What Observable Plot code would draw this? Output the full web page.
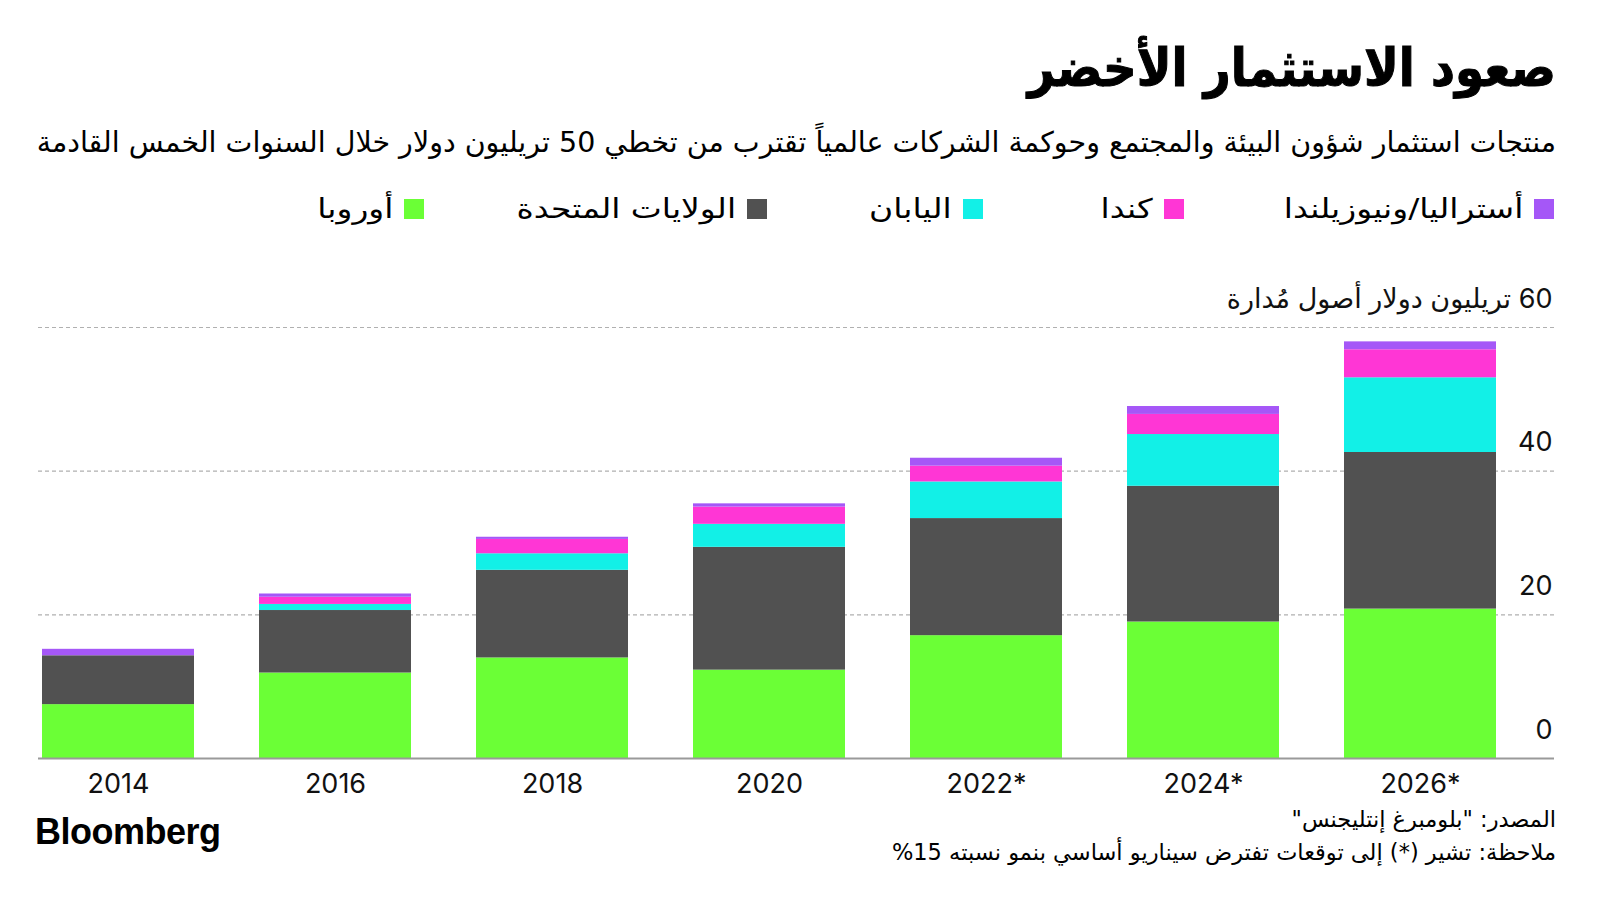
<!DOCTYPE html>
<html>
<head>
<meta charset="utf-8">
<script src="https://cdn.jsdelivr.net/npm/d3@7"></script>
<script src="https://cdn.jsdelivr.net/npm/@observablehq/plot@0.6"></script>
<style>
  html, body { margin: 0; padding: 0; background: #fff; }
  body { width: 1600px; height: 901px; position: relative; overflow: hidden;
         font-family: "DejaVu Sans", sans-serif; color: #000; }
  .rtl { direction: rtl; position: absolute; white-space: nowrap; }
  #title { right: 44px; top: 38px; font-size: 52px; font-weight: bold; font-family: "DejaVu Sans Condensed", "DejaVu Sans", sans-serif; -webkit-text-stroke: 1px #000; }
  #subtitle { right: 44px; top: 126px; font-size: 28.5px; }
  .leg { position: absolute; top: 193px; display: flex; direction: rtl; align-items: center; gap: 11px; font-size: 27px; white-space: nowrap; }
  .leg .tx { display: inline-block; transform: scaleX(1.22); transform-origin: right center; }
  .sw { width: 20px; height: 20px; display: inline-block; }
  #chart { position: absolute; left: 0; top: 280px; }
  #source { right: 44px; top: 806px; font-size: 22.5px; }
  #note { right: 44px; top: 839px; font-size: 22.5px; }
  #logo { position: absolute; left: 35px; top: 811px; font-family: "Liberation Sans", Arial, sans-serif; font-weight: bold; font-size: 36px; letter-spacing: -0.5px; }
</style>
</head>
<body>
<div id="title" class="rtl">صعود الاستثمار الأخضر</div>
<div id="subtitle" class="rtl">منتجات استثمار شؤون البيئة والمجتمع وحوكمة الشركات عالمياً تقترب من تخطي 50 تريليون دولار خلال السنوات الخمس القادمة</div>
<div id="legend"></div>
<div id="chart"></div>
<div id="source" class="rtl">المصدر: "بلومبرغ إنتليجنس"</div>
<div id="note" class="rtl">ملاحظة: تشير (*) إلى توقعات تفترض سيناريو أساسي بنمو نسبته 15%</div>
<div id="logo">Bloomberg</div>
<script>
// ---- data ----
const years = ["2014", "2016", "2018", "2020", "2022*", "2024*", "2026*"];
const seriesNames = ["أوروبا", "الولايات المتحدة", "اليابان", "كندا", "أستراليا/ونيوزيلندا"];
const europe = [7.5, 11.9, 14.0, 12.3, 17.1, 19.0, 20.8];
const us     = [6.8, 8.7, 12.2, 17.1, 16.3, 18.9, 21.8];
const japan  = [0, 0.85, 2.3, 3.2, 5.1, 7.2, 10.4];
const canada = [0, 1.0, 2.0, 2.4, 2.2, 2.8, 3.9];
const ausnz  = [0.9, 0.45, 0.3, 0.45, 1.1, 1.1, 1.1];
const yTicks = [0, 20, 40, 60];
const unitLabel = "تريليون دولار أصول مُدارة";

// ---- styles ----
const colors = ["#6bff36", "#515151", "#12f0e7", "#ff36d5", "#a557f7"];
const legendOrder = [4, 3, 2, 1, 0];          // right to left
const legendRight = [46, 416, 617, 833, 1176]; // swatch right offsets (layout)

// legend
const legend = document.getElementById("legend");
legendOrder.forEach((si, i) => {
  const item = document.createElement("div");
  item.className = "leg";
  item.style.right = legendRight[i] + "px";
  const sw = document.createElement("span");
  sw.className = "sw";
  sw.style.background = colors[si];
  const tx = document.createElement("span");
  tx.className = "tx";
  tx.textContent = seriesNames[si];
  item.appendChild(sw);
  item.appendChild(tx);
  legend.appendChild(item);
});

// tidy table
const allSeries = [europe, us, japan, canada, ausnz];
const rows = [];
allSeries.forEach((vals, si) => {
  vals.forEach((v, i) => rows.push({year: years[i], series: seriesNames[si], value: v}));
});

const fmt = d => d === 60 ? "\u200F" + d + " " + unitLabel : String(d);

const chart = Plot.plot({
  width: 1600,
  height: 530,
  marginTop: 47,
  marginBottom: 52,
  marginLeft: 38,
  marginRight: 46,
  style: {fontFamily: "Inter, 'DejaVu Sans', sans-serif", background: "transparent"},
  x: {domain: years, paddingInner: 0.3, paddingOuter: 0.143, align: 0.065, label: null},
  y: {domain: [0, 60], label: null},
  color: {domain: seriesNames, range: colors},
  marks: [
    Plot.ruleY(yTicks.filter(d => d > 0), {stroke: "#b0b0b0", strokeWidth: 1.2, strokeDasharray: "4,3"}),
    Plot.barY(rows, {x: "year", y: "value", fill: "series", order: null}),
    Plot.ruleY([0], {stroke: "#9a9a9a", strokeWidth: 2}),
    Plot.text(yTicks, {y: d => d, text: fmt, frameAnchor: "right", textAnchor: "end", lineAnchor: "bottom", dy: -20, dx: -2, fontSize: 27, fill: "#111"}),
    Plot.axisX({tickSize: 0, tickPadding: 15, fontSize: 27, label: null, color: "#111"}),
    Plot.axisY({ticks: [], label: null})
  ]
});
document.getElementById("chart").appendChild(chart);
</script>
</body>
</html>
